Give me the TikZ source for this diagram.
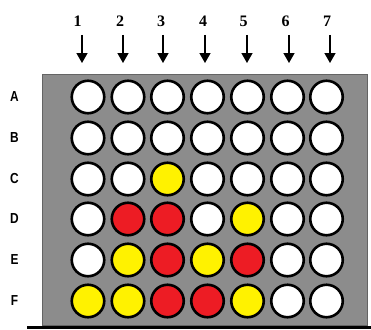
\documentclass[tikz,border=0pt]{standalone}
\usepackage{fontspec}
\setmainfont{Liberation Serif}
\newfontfamily\lsans{Liberation Sans}
\usetikzlibrary{arrows.meta}
\definecolor{boardgray}{RGB}{140,140,140}
\definecolor{boardedge}{RGB}{100,100,100}
\definecolor{cred}{RGB}{237,28,36}
\definecolor{cyellow}{RGB}{255,242,0}
\tikzset{
  hole/.style={circle, draw=black, line width=2.6pt, minimum size=32.5pt, inner sep=0pt},
  wh/.style={hole, fill=white},
  rd/.style={hole, fill=cred},
  yl/.style={hole, fill=cyellow},
  collabel/.style={font=\bfseries\fontsize{16}{16}\selectfont, inner sep=0pt},
  rowlabel/.style={font=\lsans\bfseries\fontsize{14.5}{14.5}\selectfont, inner sep=0pt, xscale=0.82},
  droparrow/.style={line width=1.4pt, -{Triangle[width=11pt,length=10pt]}}
}
\begin{document}
\begin{tikzpicture}[x=1pt,y=-1pt]
\useasboundingbox (0,0) rectangle (371,329);
\node[draw=boardedge, line width=1pt, fill=boardgray, minimum width=325pt, minimum height=251pt, inner sep=0pt, anchor=north west] (board) at (42,74) {};
\coordinate (bl) at (27,327);
\coordinate (br) at (371,327);
\draw[line width=3pt] (bl) -- (br);
% column numbers and arrows
\foreach \i/\nx/\ax in {1/77.5/82,2/120/123,3/161/163,4/203/205,5/243.5/247,6/285.5/289,7/327/330}{
  \node[collabel] (n\i) at (\nx,21) {\i};
  \coordinate (as\i) at (\ax,35);
  \coordinate (ae\i) at (\ax,63);
  \draw[droparrow] (as\i) -- (ae\i);
}
% row labels
\foreach \r/\y in {A/97,B/138,C/179,D/219,E/260,F/301}{
  \node[rowlabel] (l\r) at (14.5,\y) {\r};
}
% grid
\def\cx#1{\ifcase#1\or 88\or 128\or 167.5\or 207.5\or 247.5\or 287.5\or 326.5\fi}
\foreach \r/\y/\row in {
  A/97/{wh,wh,wh,wh,wh,wh,wh},
  B/138/{wh,wh,wh,wh,wh,wh,wh},
  C/179/{wh,wh,yl,wh,wh,wh,wh},
  D/219/{wh,rd,rd,wh,yl,wh,wh},
  E/260/{wh,yl,rd,yl,rd,wh,wh},
  F/301/{yl,yl,rd,rd,yl,wh,wh}}{
  \foreach \s [count=\c] in \row {
    \node[\s] (c\r\c) at ({\cx{\c}},\y) {};
  }
}
\end{tikzpicture}
\end{document}
